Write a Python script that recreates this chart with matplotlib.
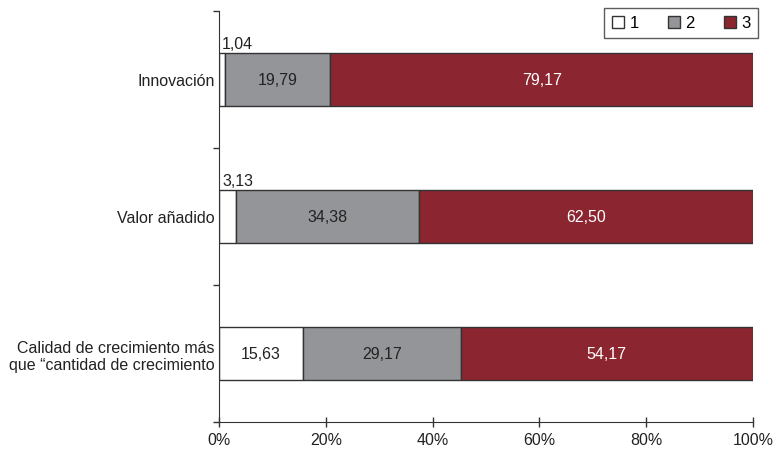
import numpy as np
import matplotlib.pyplot as plt
from matplotlib.patches import Patch

plt.rcParams['font.family'] = ['Liberation Sans', 'DejaVu Sans']

# data
categorias = ['Innovación', 'Valor añadido',
              'Calidad de crecimiento más\nque \u201ccantidad de crecimiento']
serie1 = [1.04, 3.13, 15.63]
serie2 = [19.79, 34.38, 29.17]
serie3 = [79.17, 62.50, 54.17]
nombres = ['1', '2', '3']
colores = ['#ffffff', '#939598', '#8b2530']
texto_col = ['#222222', '#222222', '#ffffff']
fs = 11.5

fig = plt.figure(figsize=(7.76, 4.52), dpi=100)
ax = fig.add_axes([219/776, 1-423/452, (753-219)/776, (423-12)/452])

datos = np.array([serie1, serie2, serie3])
totales = datos.sum(axis=0)
pct = datos / totales * 100  # 100% stacked

y = np.array([2, 1, 0])
izq = np.zeros(3)
for vals, anchos, col, tc in zip(datos, pct, colores, texto_col):
    ax.barh(y, anchos, left=izq, height=0.39, color=col, edgecolor='#333333', linewidth=1)
    for yi, v, w, l in zip(y, vals, anchos, izq):
        txt = f'{v:.2f}'.replace('.', ',')
        if w < 5:
            # small value: label above the bar
            ax.text(l + 0.6, yi + 0.21, txt, ha='left', va='bottom', fontsize=fs, color='#222222')
        else:
            ax.text(l + w/2, yi, txt, ha='center', va='center', fontsize=fs, color=tc)
    izq = izq + anchos

ax.set_xlim(0, 100)
ax.set_ylim(-0.5, 2.5)
ax.set_xticks(np.arange(0, 101, 20))
ax.set_xticklabels([f'{v}%' for v in range(0, 101, 20)], fontsize=fs, color='#222222')
ax.set_yticks([-0.5, 0.5, 1.5, 2.5])
ax.set_yticklabels([])
ax.set_yticks(y, minor=True)
ax.set_yticklabels(categorias, minor=True, fontsize=fs, color='#222222')
ax.tick_params(axis='y', which='minor', length=0, pad=3)
ax.tick_params(axis='y', which='major', length=4, width=1, color='#333333')
ax.tick_params(axis='x', direction='inout', length=7, width=1, color='#333333', pad=4)
for t in ax.get_yticklabels(minor=True):
    t.set_multialignment('right')
ax.spines['top'].set_visible(False)
ax.spines['right'].set_visible(False)
ax.spines['left'].set_color('#333333')
ax.spines['bottom'].set_color('#333333')

handles = [Patch(facecolor=c, edgecolor='#333333', label=n) for c, n in zip(colores, nombres)]
leg = fig.legend(handles=handles, ncol=3, loc='upper right', bbox_to_anchor=(758/776, 1-9/452),
                 frameon=True, fancybox=False, edgecolor='#333333', fontsize=12,
                 handlelength=0.75, handleheight=0.75, handletextpad=0.3, columnspacing=1.75,
                 borderpad=0.45, borderaxespad=0)
leg.get_frame().set_linewidth(1)

fig.savefig('out.png', dpi=100)
